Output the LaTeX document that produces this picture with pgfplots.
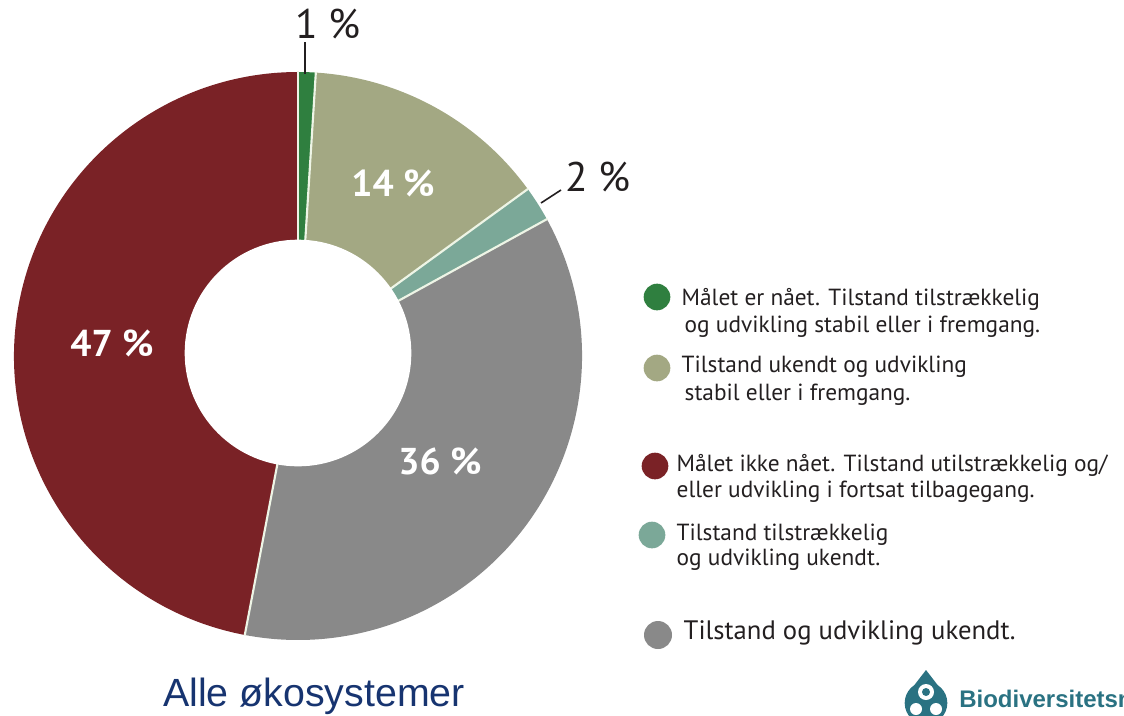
\documentclass[border=0pt]{standalone}
\usepackage{pgfplots}
\pgfplotsset{compat=1.18}
\usepackage{pgfplotstable}
\usepackage{fontspec}
\setmainfont{PT Sans}
\newfontfamily\arialfont{Liberation Sans}

\definecolor{cgreen}{HTML}{2F7F3F}
\definecolor{colive}{HTML}{A3A883}
\definecolor{cteal}{HTML}{7BA898}
\definecolor{cgray}{HTML}{898989}
\definecolor{cred}{HTML}{7A2226}
\definecolor{ctext}{HTML}{231F20}
\definecolor{ctitle}{HTML}{173470}
\definecolor{clogo}{HTML}{2A7282}
\definecolor{csep}{HTML}{EEF5E6}

% shares of the donut, clockwise from the top
\pgfplotstableread{
share
1
14
2
36
47
}\sharetable

\begin{document}%
\begin{tikzpicture}
\pgfplotstablegetelem{0}{share}\of\sharetable \pgfmathsetmacro\aB{90-3.6*\pgfplotsretval}
\pgfplotstablegetelem{1}{share}\of\sharetable \pgfmathsetmacro\aC{\aB-3.6*\pgfplotsretval}
\pgfplotstablegetelem{2}{share}\of\sharetable \pgfmathsetmacro\aD{\aC-3.6*\pgfplotsretval}
\pgfplotstablegetelem{3}{share}\of\sharetable \pgfmathsetmacro\aE{\aD-3.6*\pgfplotsretval}
\pgfplotstablegetelem{4}{share}\of\sharetable \pgfmathsetmacro\aF{\aE-3.6*\pgfplotsretval}
\begin{axis}[
  x=0.75pt, y=0.75pt,
  xmin=0, xmax=1124, ymin=0, ymax=715,
  y dir=reverse,
  hide axis, clip=false,
]
\coordinate (P1) at (axis cs:0,0);
\coordinate (P2) at (axis cs:1124,715);
% wedges
\fill[cgreen] (axis cs:298,356) -- ++(90:213pt) arc[start angle=90, end angle=\aB, radius=213pt] -- cycle;
\fill[colive] (axis cs:298,356) -- ++(\aB:213pt) arc[start angle=\aB, end angle=\aC, radius=213pt] -- cycle;
\fill[cteal] (axis cs:298,356) -- ++(\aC:213pt) arc[start angle=\aC, end angle=\aD, radius=213pt] -- cycle;
\fill[cgray] (axis cs:298,356) -- ++(\aD:213pt) arc[start angle=\aD, end angle=\aE, radius=213pt] -- cycle;
\fill[cred] (axis cs:298,356) -- ++(\aE:213pt) arc[start angle=\aE, end angle=\aF, radius=213pt] -- cycle;
% separators
\draw[csep, line width=1.6pt] (axis cs:298,356) -- ++(90:213.5pt);
\draw[csep, line width=1.6pt] (axis cs:298,356) -- ++(\aB:213.5pt);
\draw[csep, line width=1.6pt] (axis cs:298,356) -- ++(\aC:213.5pt);
\draw[csep, line width=1.6pt] (axis cs:298,356) -- ++(\aD:213.5pt);
\draw[csep, line width=1.6pt] (axis cs:298,356) -- ++(\aE:213.5pt);
% hole
\fill[white] (axis cs:298,353) circle[radius=85pt];

% leader lines
\draw[ctext, line width=1.4pt] (axis cs:305,74) -- (axis cs:305,42);
\draw[ctext, line width=1.2pt] (axis cs:541,203) -- (axis cs:561,190);

% labels
\node[ctext, font=\fontsize{31}{31}\selectfont] at (axis cs:328,24) {1 \%};
\node[ctext, font=\fontsize{31}{31}\selectfont] at (axis cs:598,177) {2 \%};
\node[white, font=\bfseries\fontsize{28}{28}\selectfont] at (axis cs:393,183) {14 \%};
\node[white, font=\bfseries\fontsize{28}{28}\selectfont] at (axis cs:112,343) {47 \%};
\node[white, font=\bfseries\fontsize{28}{28}\selectfont] at (axis cs:440,461) {36 \%};

% legend
\fill[cgreen] (axis cs:657,297) circle[radius=10pt];
\node[ctext, anchor=base west, font=\fontsize{17.5}{20}\selectfont] at (axis cs:677,305) {Målet er nået. Tilstand tilstrækkelig};
\node[ctext, anchor=base west, font=\fontsize{17.5}{20}\selectfont] at (axis cs:680,332) {og udvikling stabil eller i fremgang.};
\fill[colive] (axis cs:657,368) circle[radius=10pt];
\node[ctext, anchor=base west, font=\fontsize{17.5}{20}\selectfont] at (axis cs:677,372) {Tilstand ukendt og udvikling};
\node[ctext, anchor=base west, font=\fontsize{17.5}{20}\selectfont] at (axis cs:680,400) {stabil eller i fremgang.};
\fill[cred] (axis cs:655,466) circle[radius=10pt];
\node[ctext, anchor=base west, font=\fontsize{17.5}{20}\selectfont] at (axis cs:672,471) {Målet ikke nået. Tilstand utilstrækkelig og/};
\node[ctext, anchor=base west, font=\fontsize{17.5}{20}\selectfont] at (axis cs:672,497) {eller udvikling i fortsat tilbagegang.};
\fill[cteal] (axis cs:652,535) circle[radius=10pt];
\node[ctext, anchor=base west, font=\fontsize{17.5}{20}\selectfont] at (axis cs:672,540) {Tilstand tilstrækkelig};
\node[ctext, anchor=base west, font=\fontsize{17.5}{20}\selectfont] at (axis cs:672,565) {og udvikling ukendt.};
\fill[cgray] (axis cs:658,635) circle[radius=10.5pt];
\node[ctext, anchor=base west, font=\fontsize{20}{22}\selectfont] at (axis cs:679,639) {Tilstand og udvikling ukendt.};

% title
\node[ctitle, anchor=base, font=\arialfont\fontsize{29.5}{30}\selectfont] at (axis cs:314,706) {Alle økosystemer};

% logo
\fill[clogo] (axis cs:926,703) circle[radius=16pt];
\fill[clogo] (axis cs:926,670) -- (axis cs:909,692) -- (axis cs:943,692) -- cycle;
\fill[white] (axis cs:926,692) circle[radius=6pt];
\fill[clogo] (axis cs:926,692) circle[radius=3pt];
\fill[white] (axis cs:916,709) circle[radius=4.5pt];
\fill[white] (axis cs:936,709) circle[radius=4.5pt];
\node[clogo, anchor=base west, inner sep=0pt, font=\arialfont\bfseries\fontsize{18}{20}\selectfont] at (axis cs:959,707) {Biodiversitetsnettverk};
\end{axis}
\pgfresetboundingbox
\path[use as bounding box] (P1) rectangle (P2);
\end{tikzpicture}%
\end{document}
